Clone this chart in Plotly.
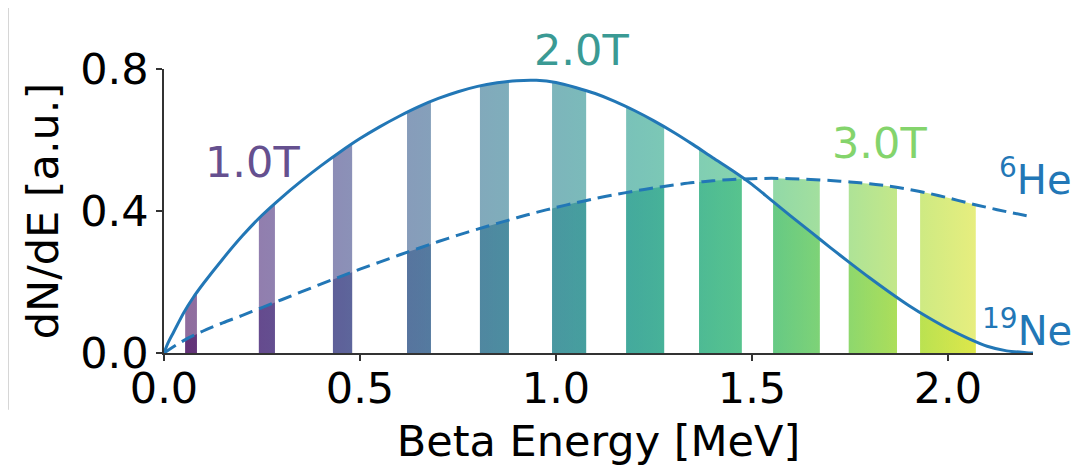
import numpy as np
import plotly.graph_objects as go
from plotly.colors import sample_colorscale, unlabel_rgb

# ---------------- data ----------------
# 19Ne beta spectrum (solid)
ne_x = [0.0, 0.01, 0.025, 0.05, 0.075, 0.10, 0.15, 0.20, 0.25, 0.30, 0.35, 0.40, 0.45,
        0.50, 0.55, 0.60, 0.65, 0.70, 0.75, 0.80, 0.85, 0.90, 0.95, 1.00, 1.05, 1.10,
        1.15, 1.20, 1.25, 1.30, 1.35, 1.40, 1.45, 1.50, 1.55, 1.60, 1.65, 1.70, 1.75,
        1.80, 1.85, 1.90, 1.95, 2.00, 2.05, 2.10, 2.15, 2.20, 2.217]
ne_y = [0.0, 0.028, 0.060, 0.113, 0.157, 0.195, 0.265, 0.330, 0.388, 0.438, 0.484, 0.527,
        0.567, 0.604, 0.637, 0.667, 0.694, 0.717, 0.736, 0.751, 0.761, 0.767, 0.768,
        0.762, 0.748, 0.731, 0.709, 0.683, 0.654, 0.622, 0.587, 0.550, 0.514, 0.475,
        0.430, 0.385, 0.341, 0.297, 0.254, 0.212, 0.172, 0.134, 0.100, 0.069, 0.042,
        0.019, 0.006, 0.001, 0.0]

# 6He beta spectrum (dashed)
he_x = [0.0, 0.05, 0.10, 0.15, 0.20, 0.25, 0.30, 0.35, 0.40, 0.45, 0.50, 0.55, 0.60,
        0.65, 0.70, 0.75, 0.80, 0.85, 0.90, 0.95, 1.00, 1.05, 1.10, 1.15, 1.20, 1.25,
        1.30, 1.35, 1.40, 1.45, 1.50, 1.55, 1.60, 1.65, 1.70, 1.75, 1.80, 1.85, 1.90,
        1.95, 2.00, 2.05, 2.10, 2.15, 2.209]
he_y = [0.0, 0.035, 0.062, 0.085, 0.106, 0.128, 0.150, 0.172, 0.194, 0.215, 0.236, 0.256,
        0.276, 0.295, 0.314, 0.332, 0.349, 0.365, 0.381, 0.396, 0.410, 0.423, 0.435,
        0.446, 0.456, 0.465, 0.473, 0.480, 0.485, 0.489, 0.491, 0.492, 0.491, 0.489,
        0.486, 0.482, 0.477, 0.470, 0.461, 0.450, 0.437, 0.423, 0.410, 0.398, 0.385]

# energy windows selected by the field scan
bar_left = [0.054, 0.242, 0.431, 0.620, 0.806, 0.990, 1.179, 1.365, 1.554, 1.747, 1.929]
bar_right = [0.084, 0.283, 0.480, 0.681, 0.880, 1.077, 1.276, 1.474, 1.673, 1.870, 2.071]

field_labels = ["1.0T", "2.0T", "3.0T"]
field_colors = ["#65508f", "#3a9a94", "#84d46c"]

isotope_labels = ["<sup>6</sup>He", "<sup>19</sup>Ne"]

x_ticks = [0.0, 0.5, 1.0, 1.5, 2.0]
y_ticks = [0.0, 0.4, 0.8]

# ---------------- styling ----------------
BLUE = "#2277b6"
FONT = "DejaVu Sans"
ALPHA = 0.6
E_MAX = 2.2


def vir_rgba(t, a):
    r, g, b = unlabel_rgb(sample_colorscale("Viridis", [min(max(t, 0), 1)])[0])
    return f"rgba({int(r)},{int(g)},{int(b)},{a})"


def window_polygon(cx, cy, lo, hi):
    cx = np.asarray(cx)
    cy = np.asarray(cy)
    inner = cx[(cx > lo) & (cx < hi)]
    xs = np.concatenate([[lo, lo], inner, [hi, hi]])
    tops = np.interp(np.concatenate([[lo], inner, [hi]]), cx, cy)
    ys = np.concatenate([[0], tops, [0]])
    return xs, ys


fig = go.Figure()

for cx, cy in [(he_x, he_y), (ne_x, ne_y)]:
    for lo, hi in zip(bar_left, bar_right):
        xs, ys = window_polygon(cx, cy, lo, hi)
        fig.add_trace(go.Scatter(
            x=xs, y=ys, mode="none", fill="toself",
            fillgradient=dict(type="horizontal", start=lo, stop=hi,
                              colorscale=[[0, vir_rgba(lo / E_MAX, ALPHA)],
                                          [1, vir_rgba(hi / E_MAX, ALPHA)]]),
            hoverinfo="skip", showlegend=False))

fig.add_trace(go.Scatter(x=ne_x, y=ne_y, mode="lines",
                         line=dict(color=BLUE, width=3, shape="spline", smoothing=0.8),
                         showlegend=False))
fig.add_trace(go.Scatter(x=he_x, y=he_y, mode="lines",
                         line=dict(color=BLUE, width=3, shape="spline", smoothing=0.8,
                                   dash="14px,7px"),
                         showlegend=False))

# field labels (paper coordinates so they can sit outside the axes)
label_pos = [(0.102, 0.673), (0.480, 1.067), (0.823, 0.741)]
for txt, (px, py), c in zip(field_labels, label_pos, field_colors):
    fig.add_annotation(x=px, y=py, xref="paper", yref="paper", text=txt, showarrow=False,
                       font=dict(family=FONT, size=43, color=c),
                       xanchor="center", yanchor="middle")

fig.add_annotation(x=1.047, y=0.521, xref="paper", yref="paper", text=isotope_labels[0],
                   showarrow=False, font=dict(family=FONT, size=40, color=BLUE),
                   xanchor="right", yanchor="bottom")
fig.add_annotation(x=1.047, y=-0.012, xref="paper", yref="paper", text=isotope_labels[1],
                   showarrow=False, font=dict(family=FONT, size=40, color=BLUE),
                   xanchor="right", yanchor="bottom")

# faint frame line on the left edge of the image
fig.add_shape(type="line", xref="paper", yref="paper",
              x0=-0.179, x1=-0.179, y0=-0.2, y1=1.215,
              line=dict(color="#d4d4d4", width=1))

axis_common = dict(showgrid=False, zeroline=False, showline=True,
                   linecolor="#333333", linewidth=1.5, ticks="outside",
                   ticklen=6, tickwidth=1.5, tickcolor="#333333",
                   tickfont=dict(family=FONT, size=43, color="black"),
                   tickformat=".1f")

# the page body adds an 8px offset, so the figure is 8px smaller in each direction
fig.update_layout(
    width=1073, height=458,
    margin=dict(l=156, r=48, t=61, b=113, autoexpand=False),
    paper_bgcolor="white", plot_bgcolor="white",
    xaxis=dict(range=[0, 2.217], tickvals=x_ticks, ticklabelstandoff=-9, **axis_common,
               title=dict(text="Beta Energy [MeV]", standoff=15,
                          font=dict(family=FONT, size=43, color="black"))),
    yaxis=dict(range=[0, 0.8], tickvals=y_ticks, ticklabelstandoff=-1, **axis_common,
               title=dict(text="dN/dE [a.u.]", standoff=8,
                          font=dict(family=FONT, size=43, color="black"))),
)

fig.write_html("out.html")
